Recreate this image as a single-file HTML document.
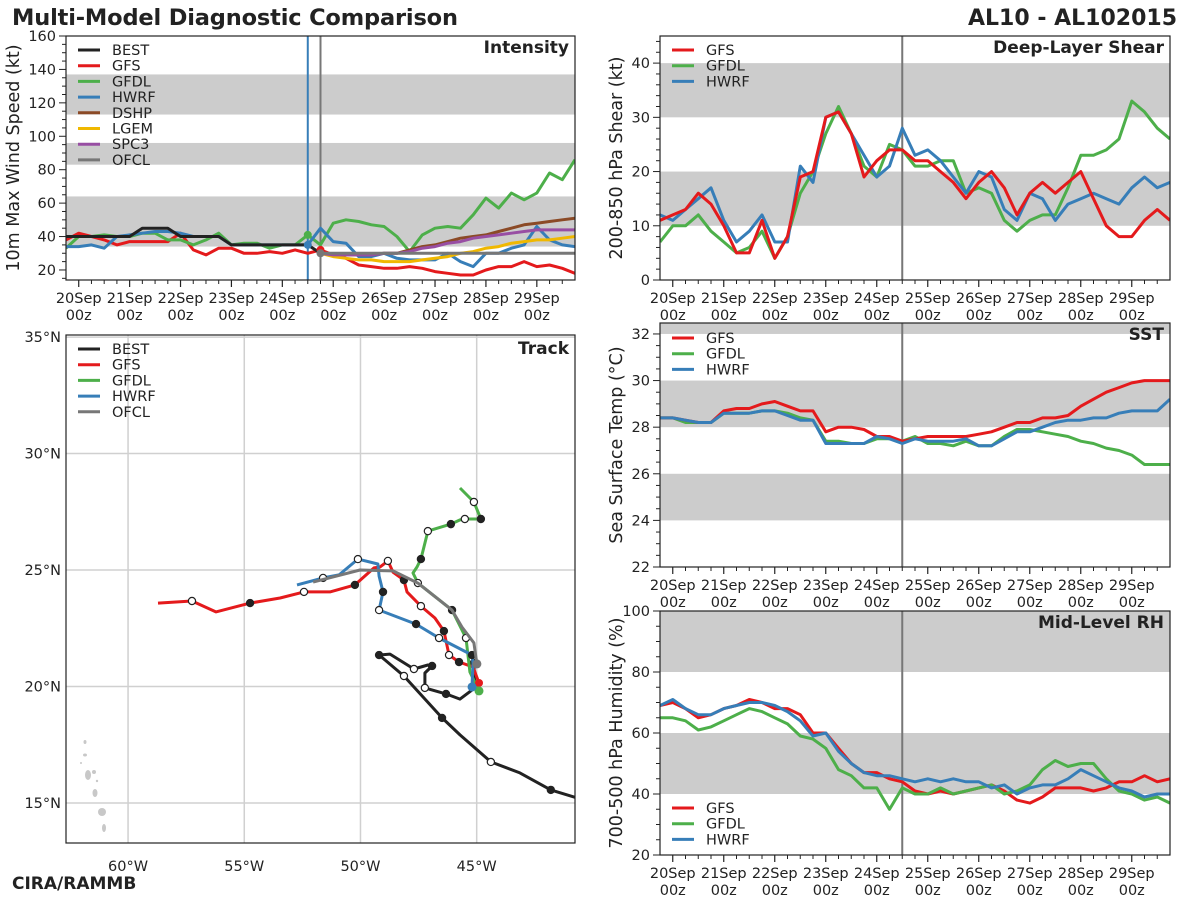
<!DOCTYPE html>
<html><head><meta charset="utf-8"><style>
html,body{margin:0;padding:0;background:#fff;}
svg{display:block;font-family:"DejaVu Sans","Liberation Sans",sans-serif;}
</style></head><body>
<svg id="fig" width="1200" height="900" viewBox="0 0 1200 900" xmlns="http://www.w3.org/2000/svg">
<text x="12" y="25" font-size="22.5" font-weight="bold" fill="#222" textLength="446">Multi-Model Diagnostic Comparison</text>
<text x="1177" y="25" font-size="22" font-weight="bold" fill="#222" text-anchor="end">AL10 - AL102015</text>
<text x="12" y="889" font-size="17" font-weight="bold" fill="#222">CIRA/RAMMB</text>
</svg>
<script>
// ---------- data ----------
const dayLabels = ["20Sep","21Sep","22Sep","23Sep","24Sep","25Sep","26Sep","27Sep","28Sep","29Sep"];
const t0 = -0.25; const dt = 0.25; // 6-hourly, days since 20Sep00z

const intBEST = [40,40,40,40,40,40,45,45,45,40,40,40,40,35,35,35,35,35,35,35,30];
const intGFS  = [38,42,40,38,35,37,37,37,37,42,32,29,33,33,30,30,31,30,32,30,32,29,27,23,22,21,21,22,21,19,18,17,17,20,22,22,25,22,23,21,18];
const intGFDL = [33,40,40,41,40,40,42,42,38,38,35,38,42,35,36,36,33,35,35,41,35,48,50,49,47,46,40,31,41,45,46,45,53,63,57,66,62,66,78,74,86];
const intHWRF = [34,34,35,33,40,41,42,43,43,42,40,40,40,35,35,35,35,35,35,35,45,37,36,28,28,30,27,26,26,26,30,25,22,30,30,33,35,46,38,35,34];
const intDSHP = [30,29,29,29,29,30,30,32,34,35,37,39,40,41,43,45,47,48,49,50,51];
const intLGEM = [30,28,27,26,26,25,25,25,26,27,28,30,31,33,34,36,37,38,38,39,40];
const intSPC3 = [30,29,29,29,29,30,30,31,33,34,36,37,39,40,41,42,43,44,44,44,44];
const intOFCL = [30,30,30,30,30,30,30,30,30,30,30,30,30,30,30,30,30,30,30,30,30];
const fcstStart = 20; // index of 24Sep18z

const shrGFS  = [11,12,13,16,14,10,5,5,11,4,8,19,20,30,31,27,19,22,24,24,22,22,20,18,15,18,20,17,12,16,18,16,18,20,15,10,8,8,11,13,11];
const shrGFDL = [7,10,10,12,9,7,5,6,9,4,8,16,20,27,32,27,21,19,25,24,21,21,22,22,16,17,16,11,9,11,12,12,17,23,23,24,26,33,31,28,26];
const shrHWRF = [12,11,13,15,17,11,7,9,12,7,7,21,18,30,31,27,23,19,21,28,23,24,22,19,16,20,19,13,11,16,15,11,14,15,16,15,14,17,19,17,18];

const sstGFS  = [28.4,28.4,28.3,28.2,28.2,28.7,28.8,28.8,29.0,29.1,28.9,28.7,28.7,27.8,28.0,28.0,27.9,27.6,27.6,27.4,27.5,27.6,27.6,27.6,27.6,27.7,27.8,28.0,28.2,28.2,28.4,28.4,28.5,28.9,29.2,29.5,29.7,29.9,30.0,30.0,30.0];
const sstGFDL = [28.4,28.4,28.2,28.2,28.2,28.6,28.6,28.6,28.7,28.7,28.6,28.4,28.3,27.4,27.4,27.3,27.3,27.5,27.5,27.4,27.6,27.3,27.3,27.2,27.4,27.2,27.2,27.6,27.9,27.9,27.8,27.7,27.6,27.4,27.3,27.1,27.0,26.8,26.4,26.4,26.4];
const sstHWRF = [28.4,28.4,28.3,28.2,28.2,28.6,28.6,28.6,28.7,28.7,28.5,28.3,28.3,27.3,27.3,27.3,27.3,27.6,27.5,27.3,27.5,27.4,27.4,27.4,27.5,27.2,27.2,27.5,27.8,27.8,28.0,28.2,28.3,28.3,28.4,28.4,28.6,28.7,28.7,28.7,29.2];

const rhGFS  = [69,70,68,65,66,68,69,71,70,68,68,66,60,60,55,50,47,47,45,44,41,40,41,40,41,42,43,41,38,37,39,42,42,42,41,42,44,44,46,44,45];
const rhGFDL = [65,65,64,61,62,64,66,68,67,65,63,59,58,55,48,46,42,42,35,42,40,40,42,40,41,42,43,40,41,43,48,51,49,50,50,45,41,40,38,39,37];
const rhHWRF = [69,71,68,66,66,68,69,70,70,69,67,64,59,60,54,50,47,46,46,45,44,45,44,45,44,44,42,43,40,42,43,43,45,48,46,44,42,41,39,40,40];

// track data (lon east-positive, lat), marker: f=filled, o=open, ''=none
const trkBESTlon = [-39.7,-41.81,-43.14,-44.39,-45.72,-46.49,-48.13,-48.95,-49.20,-48.73,-47.70,-47.10,-46.92,-47.23,-47.23,-46.32,-45.72,-45.08,-45.12];
const trkBESTlat = [14.91,15.56,16.29,16.76,17.92,18.65,20.45,21.14,21.35,21.39,20.75,20.92,20.88,20.58,19.94,19.68,19.46,19.94,21.01];
const trkBESTmk  = ['','f','','o','','f','o','','f','','o','','f','','o','f','','','f'];
const trkGFSlon = [-44.90,-45.16,-45.76,-46.19,-46.28,-46.41,-46.80,-47.40,-48.00,-48.13,-48.60,-48.82,-49.16,-49.42,-50.24,-51.31,-52.43,-53.46,-54.75,-56.22,-57.25,-58.71];
const trkGFSlat = [20.15,20.84,21.05,21.35,21.78,22.38,22.94,23.45,24.06,24.57,24.91,25.39,25.13,25.09,24.36,24.06,24.06,23.80,23.58,23.20,23.67,23.58];
const trkGFSmk  = ['','','f','o','','f','','o','','f','','o','','','f','','o','','f','','o',''];
const trkGFDLlon = [-44.90,-45.29,-45.46,-46.06,-47.53,-47.74,-47.57,-47.40,-47.10,-46.11,-45.72,-45.51,-44.82,-45.12,-45.72];
const trkGFDLlat = [19.81,20.62,22.08,23.28,24.44,24.87,25.13,25.47,26.67,26.97,27.15,27.19,27.19,27.92,28.52];
const trkGFDLmk  = ['','','o','f','o','','','f','o','f','','o','f','o',''];
const trkHWRFlon = [-45.20,-45.16,-45.20,-46.62,-47.61,-49.20,-49.03,-49.20,-49.25,-50.11,-50.92,-51.61,-52.73];
const trkHWRFlat = [19.98,21.01,21.35,22.08,22.68,23.28,24.06,24.74,25.26,25.47,24.79,24.66,24.36];
const trkHWRFmk  = ['','','f','o','f','o','f','','','o','','o',''];
const trkOFCLlon = [-44.99,-45.12,-45.63,-46.06,-47.53,-48.60,-50.02,-52.04];
const trkOFCLlat = [20.97,21.87,22.55,23.28,24.44,24.96,25.00,24.48];

// ---------- helpers ----------
const NS = "http://www.w3.org/2000/svg";
const svg = document.getElementById('fig');
function el(tag, attrs, parent) {
  const e = document.createElementNS(NS, tag);
  for (const k in attrs) e.setAttribute(k, attrs[k]);
  (parent || svg).appendChild(e);
  return e;
}
const C = {BEST:"#222222",GFS:"#e41a1c",GFDL:"#4daf4a",HWRF:"#377eb8",DSHP:"#8b4a26",LGEM:"#f0b800",SPC3:"#984ea3",OFCL:"#777777"};

function timePanel(cfg) {
  const g = el('g', {});
  
  
  const X0 = cfg.x0, X1 = cfg.x1, Y0 = cfg.y0, Y1 = cfg.y1;
  const xs = d => X0 + (d - t0) / (10.0) * (X1 - X0);
  const ys = v => Y1 - (v - cfg.ymin) / (cfg.ymax - cfg.ymin) * (Y1 - Y0);
  const clip = el('clipPath', {id: cfg.name + '-clip'}, g);
  el('rect', {x: X0, y: Y0, width: X1 - X0, height: Y1 - Y0}, clip);
  cfg.bands.forEach(b => {
    const r = el('rect', {x: X0, y: ys(Math.min(b[1], cfg.ymax)), width: X1 - X0, height: ys(b[0]) - ys(Math.min(b[1], cfg.ymax)), fill: '#cccccc'}, g);
    
    
  });
  (cfg.vlines || []).forEach(v => {
    const l = el('line', {x1: xs(v[0]), x2: xs(v[0]), y1: Y0, y2: Y1, stroke: v[1], 'stroke-width': 2}, g);
    
    
  });
  const plot = el('g', {'clip-path': 'url(#' + cfg.name + '-clip)'}, g);
  cfg.series.forEach(s => {
    const pts = s.vals.map((v, i) => xs(t0 + (i + (s.start || 0)) * dt).toFixed(1) + ',' + ys(v).toFixed(1)).join(' ');
    const p = el('polyline', {points: pts, fill: 'none', stroke: C[s.k], 'stroke-width': 3, 'stroke-linejoin': 'round'}, plot);
    
    
  });
  (cfg.markers || []).forEach(m => {
    el('circle', {cx: xs(m[0]), cy: ys(m[1]), r: 4, fill: m[2]}, plot);
  });
  const fr = el('rect', {x: X0, y: Y0, width: X1 - X0, height: Y1 - Y0, fill: 'none', stroke: '#222', 'stroke-width': 1.2}, g);
  
  
  for (let d = 0; d < 10; d++) {
    el('line', {x1: xs(d), x2: xs(d), y1: Y1, y2: Y1 + 7, stroke: '#222', 'stroke-width': 1.2}, g);
    const t1 = el('text', {x: xs(d), y: Y1 + 23, 'font-size': 14.5, 'text-anchor': 'middle', fill: '#222'}, g);
    t1.textContent = dayLabels[d];
    
    
    const t2 = el('text', {x: xs(d), y: Y1 + 40, 'font-size': 14.5, 'text-anchor': 'middle', fill: '#222'}, g);
    t2.textContent = '00z';
  }
  for (let q = 0; q < 40; q++) {
    const d = t0 + q * dt; if (Math.abs(d - Math.round(d)) < 1e-6 || d < t0 + 0.01) continue;
    el('line', {x1: xs(d), x2: xs(d), y1: Y1, y2: Y1 + 4, stroke: '#222', 'stroke-width': 1}, g);
  }
  for (let v = cfg.ymin0; v <= cfg.ymax + 1e-6; v += cfg.minor) {
    if (v < cfg.ymin - 1e-6) continue;
    const major = Math.abs(v / cfg.major - Math.round(v / cfg.major)) < 1e-6;
    el('line', {x1: X0 - (major ? 7 : 4), x2: X0, y1: ys(v), y2: ys(v), stroke: '#222', 'stroke-width': 1}, g);
    if (major && v >= cfg.labMin) {
      const t = el('text', {x: X0 - 10, y: ys(v) + 5, 'font-size': 14.5, 'text-anchor': 'end', fill: '#222'}, g);
      t.textContent = String(v);
      
      
    }
  }
  const yc = (Y0 + Y1) / 2;
  const yt = el('text', {x: cfg.ylabX, y: yc, 'font-size': 17.5, 'text-anchor': 'middle', fill: '#222', transform: 'rotate(-90 ' + cfg.ylabX + ' ' + yc + ')'}, g);
  yt.textContent = cfg.ylabel;
  
  
  const pt = el('text', {x: X1 - 6, y: Y0 + 17, 'font-size': 17, 'font-weight': 'bold', 'text-anchor': 'end', fill: '#222'}, g);
  pt.textContent = cfg.title;
  
  
  legend(g, X0 + 12, cfg.legY, cfg.legend, cfg.legStep || 15.7);
}
function legend(g, x, y, keys, step) {
  keys.forEach((k, i) => {
    const lg = el('g', {}, g);
    
    
    el('line', {x1: x, x2: x + 22, y1: y + i * step, y2: y + i * step, stroke: C[k], 'stroke-width': 3}, lg);
    const t = el('text', {x: x + 34, y: y + i * step + 5, 'font-size': 14.5, fill: '#222'}, lg);
    t.textContent = k;
  });
}

timePanel({name: 'intensity-panel', x0: 66, x1: 575, y0: 36, y1: 280, ymin: 14, ymax: 160, ymin0: 15, minor: 5, major: 20, labMin: 20,
  bands: [[34, 64], [83, 96], [113, 137]], vlines: [[4.5, '#377eb8'], [4.75, '#777777']],
  series: [{k: 'GFS', vals: intGFS}, {k: 'GFDL', vals: intGFDL}, {k: 'HWRF', vals: intHWRF},
    {k: 'DSHP', vals: intDSHP, start: fcstStart}, {k: 'LGEM', vals: intLGEM, start: fcstStart}, {k: 'SPC3', vals: intSPC3, start: fcstStart},
    {k: 'OFCL', vals: intOFCL, start: fcstStart}, {k: 'BEST', vals: intBEST}],
  markers: [[4.5, intGFDL[19], C.GFDL], [4.5, intHWRF[19], C.HWRF], [4.75, intGFS[20], C.GFS], [4.75, intOFCL[0], C.OFCL]],
  ylabel: '10m Max Wind Speed (kt)', ylabX: 19, title: 'Intensity', legY: 50,
  legend: ['BEST', 'GFS', 'GFDL', 'HWRF', 'DSHP', 'LGEM', 'SPC3', 'OFCL']});

timePanel({name: 'shear-panel', x0: 660, x1: 1170, y0: 36, y1: 280, ymin: 0, ymax: 45, ymin0: 0, minor: 2, major: 10, labMin: 0,
  bands: [[10, 20], [30, 40]], vlines: [[4.5, '#777777']],
  series: [{k: 'GFDL', vals: shrGFDL}, {k: 'HWRF', vals: shrHWRF}, {k: 'GFS', vals: shrGFS}],
  ylabel: '200-850 hPa Shear (kt)', ylabX: 622, title: 'Deep-Layer Shear', legY: 50, legend: ['GFS', 'GFDL', 'HWRF']});

timePanel({name: 'sst-panel', x0: 660, x1: 1170, y0: 323, y1: 567, ymin: 22, ymax: 32.47, ymin0: 22, minor: 0.5, major: 2, labMin: 22,
  bands: [[24, 26], [28, 30], [32, 33]], vlines: [[4.5, '#777777']],
  series: [{k: 'GFDL', vals: sstGFDL}, {k: 'GFS', vals: sstGFS}, {k: 'HWRF', vals: sstHWRF}],
  ylabel: 'Sea Surface Temp (°C)', ylabX: 622, title: 'SST', legY: 338, legend: ['GFS', 'GFDL', 'HWRF']});

timePanel({name: 'rh-panel', x0: 660, x1: 1170, y0: 611, y1: 855, ymin: 20, ymax: 100, ymin0: 20, minor: 5, major: 20, labMin: 20,
  bands: [[40, 60], [80, 100]], vlines: [[4.5, '#777777']],
  series: [{k: 'GFS', vals: rhGFS}, {k: 'GFDL', vals: rhGFDL}, {k: 'HWRF', vals: rhHWRF}],
  ylabel: '700-500 hPa Humidity (%)', ylabX: 622, title: 'Mid-Level RH', legY: 808, legend: ['GFS', 'GFDL', 'HWRF']});

// ---------- track panel ----------
(function () {
  const X0 = 66, X1 = 575, Y0 = 335, Y1 = 843;
  const lonMin = -62.67, lonMax = -40.77, latMin = 13.28, latMax = 35.09;
  const xs = lo => X0 + (lo - lonMin) / (lonMax - lonMin) * (X1 - X0);
  const ys = la => Y1 - (la - latMin) / (latMax - latMin) * (Y1 - Y0);
  const g = el('g', {});
  
  
  const clip = el('clipPath', {id: 'track-clip'}, g);
  el('rect', {x: X0, y: Y0, width: X1 - X0, height: Y1 - Y0}, clip);
  const pg = el('g', {'clip-path': 'url(#track-clip)'}, g);
  [-60, -55, -50, -45].forEach(lo => el('line', {x1: xs(lo), x2: xs(lo), y1: Y0, y2: Y1, stroke: '#d0d0d0', 'stroke-width': 1.5}, pg));
  [15, 20, 25, 30, 35].forEach(la => el('line', {x1: X0, x2: X1, y1: ys(la), y2: ys(la), stroke: '#d0d0d0', 'stroke-width': 1.5}, pg));
  [[85, 742, 1.5, 2], [85, 755, 2, 1.5], [81, 763, 1, 1], [88, 775, 3, 5], [94, 772, 2, 2], [97, 781, 1.2, 1.2], [95, 793, 2.5, 4], [102, 812, 4, 4], [104, 828, 2, 4]].forEach(p => {
    el('ellipse', {cx: p[0], cy: p[1], rx: p[2], ry: p[3], fill: '#c8c8c8'}, pg);
  });
  function track(k, lons, lats, mks) {
    const pts = lons.map((lo, i) => xs(lo).toFixed(1) + ',' + ys(lats[i]).toFixed(1)).join(' ');
    const p = el('polyline', {points: pts, fill: 'none', stroke: C[k], 'stroke-width': 3, 'stroke-linejoin': 'round'}, pg);
    
    
    if (mks) mks.forEach((m, i) => {
      if (!m) return;
      el('circle', {cx: xs(lons[i]), cy: ys(lats[i]), r: 3.6, fill: m === 'f' ? '#222' : '#fff', stroke: '#222', 'stroke-width': 1.2}, pg);
    });
  }
  track('BEST', trkBESTlon, trkBESTlat, trkBESTmk);
  track('GFS', trkGFSlon, trkGFSlat, trkGFSmk);
  track('GFDL', trkGFDLlon, trkGFDLlat, trkGFDLmk);
  track('HWRF', trkHWRFlon, trkHWRFlat, trkHWRFmk);
  track('OFCL', trkOFCLlon, trkOFCLlat, null);
  el('circle', {cx: xs(trkGFSlon[0]), cy: ys(trkGFSlat[0]), r: 4, fill: C.GFS}, pg);
  el('circle', {cx: xs(trkGFDLlon[0]), cy: ys(trkGFDLlat[0]), r: 4.5, fill: C.GFDL}, pg);
  el('circle', {cx: xs(trkHWRFlon[0]), cy: ys(trkHWRFlat[0]), r: 4.5, fill: C.HWRF}, pg);
  el('circle', {cx: xs(trkOFCLlon[0]), cy: ys(trkOFCLlat[0]), r: 4.5, fill: C.OFCL}, pg);
  el('rect', {x: X0, y: Y0, width: X1 - X0, height: Y1 - Y0, fill: 'none', stroke: '#222', 'stroke-width': 1.2}, g);
  [15, 20, 25, 30, 35].forEach(la => {
    const t = el('text', {x: 61, y: ys(la) + 5, 'font-size': 14.5, 'text-anchor': 'end', fill: '#222'}, g);
    t.textContent = la + '°N';
    
    
  });
  [-60, -55, -50, -45].forEach(lo => {
    const t = el('text', {x: xs(lo), y: 871, 'font-size': 14.5, 'text-anchor': 'middle', fill: '#222'}, g);
    t.textContent = (-lo) + '°W';
    
    
  });
  const pt = el('text', {x: X1 - 6, y: Y0 + 19, 'font-size': 17, 'font-weight': 'bold', 'text-anchor': 'end', fill: '#222'}, g);
  pt.textContent = 'Track';
  
  
  legend(g, 78, 349, ['BEST', 'GFS', 'GFDL', 'HWRF', 'OFCL'], 15.7);
})();
</script>
</body></html>
